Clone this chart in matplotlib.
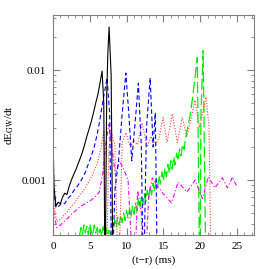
import matplotlib
matplotlib.use("Agg")
import matplotlib.pyplot as plt
from matplotlib.ticker import LogLocator, FixedLocator, MultipleLocator, FixedFormatter

plt.rcParams.update({"font.family": "Liberation Serif", "font.size": 8,
                     "mathtext.fontset": "stix"})

LOW = 1e-4  # drops below the bottom of the plot

# black solid
t_k = [0, 0.12, 0.4, 0.7, 1.0, 1.3, 1.6, 1.9, 2.2, 2.5, 2.8, 3.1, 3.4, 3.7, 4.0,
       4.3, 4.6, 4.9, 5.2, 5.5, 5.8, 6.1, 6.4, 6.67, 6.9, 7.07, 7.3, 7.45, 7.62, 7.9, 8.16]
y_k = [0.0030, 0.0009, 0.00058, 0.00063, 0.00061, 0.00070, 0.00076, 0.00074, 0.00088, 0.00100,
       0.00112, 0.00124, 0.00140, 0.00158, 0.00180, 0.0021, 0.0025, 0.0029, 0.0034, 0.0041,
       0.0050, 0.0060, 0.0077, 0.0098, 0.005, LOW, 0.006, 0.014, 0.0246, 0.009, LOW]

# blue dashed
t_b = [0, 0.12, 0.4, 0.8, 1.2, 1.6, 2.0, 2.4, 2.8, 3.2, 3.6, 4.0, 4.4, 4.8, 5.2, 5.6, 6.0,
       6.3, 6.6, 6.9, 7.35, 7.7, 8.0, 8.4, 8.9, 9.4, 9.9, 10.3, 10.7, 11.1, 11.6, 12.0, 12.3,
       12.7, 13.2, 13.6, 13.9, 14.2]
y_b = [0.0028, 0.0008, 0.00056, 0.00058, 0.00062, 0.00061, 0.00068, 0.00072, 0.00080, 0.00086,
       0.00094, 0.00104, 0.00118, 0.00140, 0.00165, 0.0020, 0.0026, 0.0033, 0.0044, 0.0058,
       0.0085, 0.004, LOW, 0.0008, 0.0015, 0.004, 0.0094, 0.004, 0.0015, 0.003, 0.0076, 0.002,
       LOW, 0.003, 0.0085, 0.002, 0.0041, LOW]

# red dotted
t_r = [0, 0.12, 0.5, 1.0, 1.5, 2.0, 2.5, 3.0, 3.5, 4.0, 4.5, 5.0, 5.5, 6.0, 6.5, 6.9, 7.2,
       7.6, 8.0, 8.4, 8.9, 9.4, 9.9, 10.5, 11.0, 11.5, 12.1, 12.8, 13.3, 13.9, 14.4, 14.95,
       15.5, 16.2, 16.9, 17.55, 18.2, 18.7, 19.3, 19.9, 20.8, 21.2, 21.5]
y_r = [0.0020, 0.0006, 0.00042, 0.00044, 0.00048, 0.00052, 0.00058, 0.00063, 0.00071, 0.00078,
       0.00088, 0.00100, 0.00118, 0.0014, 0.0019, 0.0028, LOW, 0.002, 0.0026, 0.0021, LOW,
       0.0022, 0.0027, 0.0020, 0.0023, 0.0021, 0.0033, 0.0020, 0.0025, 0.0021, 0.0024, 0.0037,
       0.0022, 0.0040, 0.0022, 0.0037, 0.0025, 0.0035, 0.0053, 0.0030, 0.0057, 0.0030, LOW]

# magenta dash-dot
t_m = [0, 0.12, 0.5, 1.0, 1.5, 2.0, 2.5, 3.0, 3.5, 4.0, 4.6, 5.2, 5.8, 6.3, 6.8, 7.2, 7.6,
       8.0, 8.5, 9.0, 9.5, 10.2, 11.0, 11.5, 12.0, 12.4, 13.0, 13.5, 14.1, 15.0, 16.1, 17.0,
       18.2, 19.3, 20.3, 21.1, 22.0, 23.0, 23.7, 24.4, 25.0]
y_m = [0.0015, 0.0005, 0.00037, 0.00039, 0.00042, 0.00045, 0.00049, 0.00052, 0.00056, 0.00059,
       0.00062, 0.00066, 0.00071, 0.00078, 0.0012, 0.0022, 0.0032, 0.0020, 0.0011, 0.0015,
       0.0013, 0.0010, LOW, 0.0008, 0.0005, LOW, 0.0007, 0.00105, 0.0009, 0.00075, 0.00062,
       0.00096, 0.00078, 0.00100, 0.00068, 0.00107, 0.00085, 0.00105, 0.00085, 0.00107, 0.00086]

# green long dash (noisy)
t_g = [3.6, 3.8, 4.0, 4.2, 4.4, 4.6, 4.8, 5.0, 5.2, 5.4, 5.6, 5.8, 6.0, 6.2, 6.4, 6.6, 6.8,
       7.0, 7.2, 7.4, 7.6, 7.8, 8.0, 8.2, 8.4, 8.6, 8.8, 9.0, 9.2, 9.4, 9.6, 9.8, 10.0, 10.2,
       10.4, 10.6, 10.8, 11.0, 11.2, 11.4, 11.6, 11.8, 12.0, 12.2, 12.4, 12.6, 12.8, 13.0,
       13.2, 13.4, 13.6, 13.8, 14.0, 14.2, 14.4, 14.6, 14.8, 15.0, 15.2, 15.4, 15.6, 15.8,
       16.0, 16.2, 16.4, 16.6, 16.8, 17.0, 17.2, 17.4, 17.6, 17.8, 18.0, 18.3, 18.6, 18.9,
       19.2, 19.6, 19.95, 20.1, 20.4, 20.8]
y_g = [0.00031, 0.00037, 0.00032, 0.00039, 0.00033, 0.00038, 0.00032, 0.00040, 0.00034, 0.00031,
       0.00039, 0.00033, 0.00037, 0.00032, 0.00036, 0.00031, 0.00038, 0.00033, 0.00037, 0.00031,
       0.00035, 0.00032, 0.00041, 0.00036, 0.00044, 0.00037, 0.00046, 0.00039, 0.00048, 0.00041,
       0.00050, 0.00043, 0.00053, 0.00045, 0.00055, 0.00046, 0.00058, 0.00049, 0.00062, 0.00052,
       0.00066, 0.00055, 0.00070, 0.00059, 0.00075, 0.00063, 0.00081, 0.00068, 0.00088, 0.00073,
       0.00094, 0.00079, 0.00101, 0.00085, 0.00110, 0.00092, 0.00119, 0.00099, 0.00128, 0.00107,
       0.00139, 0.00116, 0.00150, 0.00126, 0.00162, 0.00137, 0.00176, 0.00150, 0.00192, 0.00166,
       0.0021, 0.0019, 0.0024, 0.0030, 0.0038, 0.0052, 0.0075, 0.013, LOW, 0.004, 0.015, LOW]

fig = plt.figure(figsize=(2.69, 2.69), dpi=100)
ax = fig.add_axes([0.197, 0.126, 0.747, 0.818])

ax.plot(t_g, y_g, color="#00ee00", lw=0.9, ls=(0, (9, 3)))
ax.plot(t_m, y_m, color="#ff00ff", lw=0.8, ls=(0, (4, 2, 1, 2)))
ax.plot(t_r, y_r, color="#ff4040", lw=0.8, ls=(0, (1, 1.5)))
ax.plot(t_b, y_b, color="#0000ff", lw=0.8, ls=(0, (4, 2.5)))
ax.plot(t_k, y_k, color="black", lw=0.8)

ax.set_yscale("log")
ax.set_xlim(0, 27.3)
ax.set_ylim(10**-3.5, 10**-1.5)
ax.xaxis.set_major_locator(MultipleLocator(5))
ax.xaxis.set_minor_locator(MultipleLocator(1))
ax.yaxis.set_major_locator(FixedLocator([0.001, 0.01]))
ax.yaxis.set_major_formatter(FixedFormatter(["0.001", "0.01"]))
ax.yaxis.set_minor_locator(LogLocator(base=10, subs=range(2, 10)))
ax.yaxis.set_minor_formatter(plt.NullFormatter())

for s in ax.spines.values():
    s.set_color("#808080")
ax.tick_params(which="both", direction="in", top=True, right=True, color="#808080",
               labelsize=8, pad=5)
ax.tick_params(which="major", length=5, width=0.8)
ax.tick_params(which="minor", length=2.5, width=0.6)

ax.set_xlabel("(t\u2212r) (ms)", fontsize=8, labelpad=3)
ax.set_ylabel("dE$_{\\rm GW}$/dt", fontsize=8)

fig.savefig("out.png", dpi=100)
